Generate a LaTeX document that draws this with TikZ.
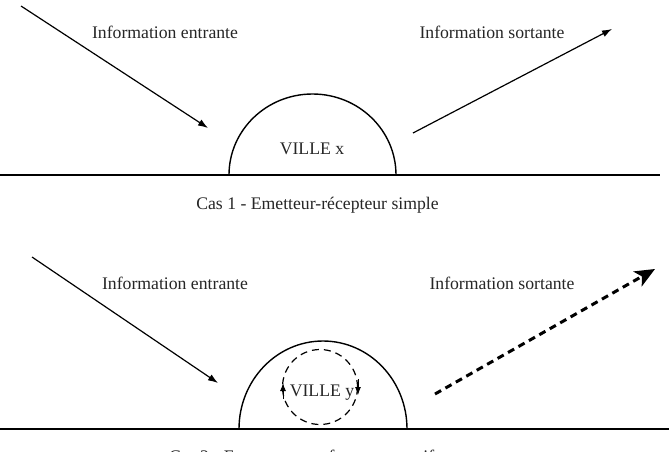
\documentclass[tikz,border=0pt]{standalone}
\usepackage{fontspec}
\setmainfont{Liberation Serif}
\usetikzlibrary{arrows.meta}
\begin{document}
\begin{tikzpicture}[x=1pt,y=-1pt,
  lbl/.style={font=\fontsize{17.7}{20}\selectfont, inner sep=0pt, text=black!85},
  ground/.style={line width=1.5pt},
  dome/.style={line width=1.4pt},
  flow/.style={line width=1.2pt,-{Latex[length=10pt,width=7pt]}},
  bigflow/.style={line width=3pt, dash pattern=on 7pt off 5pt, -{Stealth[length=20pt,width=17pt,inset=5pt]}},
  rot/.style={line width=1pt,-{Latex[length=8pt,width=6pt]}},
  ring/.style={circle, draw, line width=1.2pt, dash pattern=on 7pt off 5pt, minimum size=75pt, inner sep=0pt}
  ]
\useasboundingbox (0,0) rectangle (669,451);
\fill[white] (0,0) rectangle (669,451);

% ---------- Cas 1 ----------
\draw[ground] (0,175) -- (660,175);
\draw[dome] (229,175) arc[start angle=180, end angle=360, x radius=83.5, y radius=81];
\node[lbl, anchor=base] (vx) at (312,154) {VILLE x};

\node[lbl] (ie1) at (165,32) {Information entrante};
\node[lbl] (is1) at (492,32) {Information sortante};

\coordinate (a1s) at (21,6);
\coordinate (a1e) at (208,128);
\draw[flow] (a1s) -- (a1e);
\coordinate (b1s) at (413,133);
\coordinate (b1e) at (612,29);
\draw[flow] (b1s) -- (b1e);

\node[lbl, anchor=base] (c1) at (317.5,209) {Cas 1 - Emetteur-récepteur simple};

% ---------- Cas 2 ----------
\draw[ground] (0,429) -- (669,429);
\draw[dome] (239,429) arc[start angle=180, end angle=360, x radius=84, y radius=88];
\node[ring] (cy) at (320,387) {};
\node[lbl, anchor=base] (vy) at (322,396) {VILLE y};
\coordinate (l1) at (283,399);
\coordinate (l2) at (283,383);
\draw[rot] (l1) -- (l2);
\coordinate (r1) at (358,379);
\coordinate (r2) at (358,395);
\draw[rot] (r1) -- (r2);

\node[lbl] (ie2) at (175,283) {Information entrante};
\node[lbl] (is2) at (502,283) {Information sortante};

\coordinate (a2s) at (32,257);
\coordinate (a2e) at (218,383);
\draw[flow] (a2s) -- (a2e);
\coordinate (b2s) at (435,394);
\coordinate (b2e) at (655,269);
\draw[bigflow] (b2s) -- (b2e);

\node[lbl, anchor=base west] (c2) at (169,462) {Cas 2 - Emetteur-transformateur actif};
\end{tikzpicture}
\end{document}
